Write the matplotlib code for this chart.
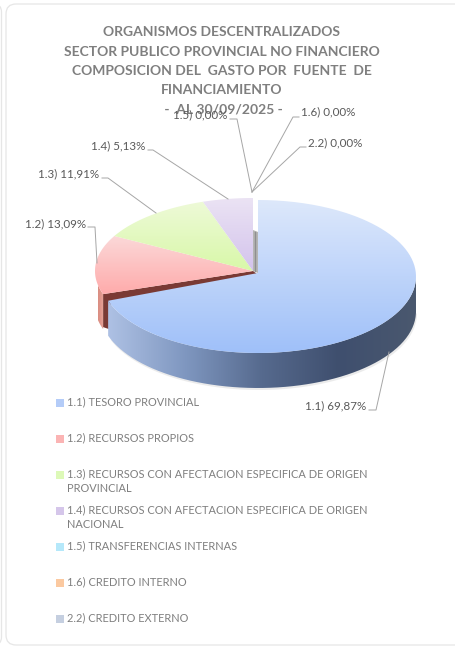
import numpy as np
import matplotlib
matplotlib.use("Agg")
import matplotlib.pyplot as plt
from matplotlib.colors import LinearSegmentedColormap
from matplotlib.patches import FancyBboxPatch, PathPatch, Polygon
from matplotlib.path import Path

plt.rcParams['font.family'] = ['Lato', 'DejaVu Sans']

# --- data ---
values = [69.87, 13.09, 11.91, 5.13, 0.00, 0.00, 0.00]
value_labels = ['1.1) 69,87%', '1.2) 13,09%', '1.3) 11,91%', '1.4) 5,13%',
                '1.5) 0,00%', '1.6) 0,00%', '2.2) 0,00%']
legend_names = ['1.1) TESORO PROVINCIAL', '1.2) RECURSOS PROPIOS',
                '1.3) RECURSOS CON AFECTACION ESPECIFICA DE ORIGEN\nPROVINCIAL',
                '1.4) RECURSOS CON AFECTACION ESPECIFICA DE ORIGEN\nNACIONAL',
                '1.5) TRANSFERENCIAS INTERNAS', '1.6) CREDITO INTERNO',
                '2.2) CREDITO EXTERNO']
title_lines = ['ORGANISMOS DESCENTRALIZADOS',
               'SECTOR PUBLICO PROVINCIAL NO FINANCIERO',
               'COMPOSICION DEL  GASTO POR  FUENTE  DE',
               'FINANCIAMIENTO',
               ' -  AL 30/09/2025 -']

# colours: light top, saturated bottom of each face
face_top = ['#dde8fb', '#fbd9d9', '#eefad8', '#ebe3f4']
face_bot = ['#9fc0f9', '#ffabab', '#d8f8a8', '#d3c3ec']
swatches = ['#b4ccf8', '#fbb4b4', '#ddf9b8', '#d5c6ea', '#b5e8fa', '#fbc9a0', '#c5cfe0']

GREY = '#7f7f7f'
DARK = '#595959'
LINE = '#a6a6a6'

fig = plt.figure(figsize=(4.56, 6.47), dpi=100)
ax = fig.add_axes([0, 0, 1, 1])
ax.set_xlim(0, 456)
ax.set_ylim(647, 0)
ax.axis('off')

# card outlines
ax.add_patch(FancyBboxPatch((6, 4), 470, 641, boxstyle='round,pad=0,rounding_size=10',
                            fc='white', ec='#e6e6e6', lw=0.9))
ax.add_patch(FancyBboxPatch((-30, 4), 31.5, 641, boxstyle='round,pad=0,rounding_size=8',
                            fc='white', ec='#e6e6e6', lw=0.9))

RX, DEPTH = 158, 35
MAIN = (258, 276.5)    # blue slice is pulled out
MAIN_RY = 76.5
MAIN_APEX = (258, 273)
REST = (253, 271)
REST_RY = 73


def ell(c, ry, deg):
    a = np.radians(deg)
    return c[0] + RX * np.sin(a), c[1] - ry * np.cos(a)


def arc(c, ry, a0, a1, n=120):
    t = np.linspace(a0, a1, n)
    x, y = ell(c, ry, t)
    return np.column_stack([x, y])


def gradient_fill(verts, colors, horizontal=False, zorder=2):
    cm = LinearSegmentedColormap.from_list('g', colors)
    x0, y0 = verts.min(axis=0)
    x1, y1 = verts.max(axis=0)
    g = np.linspace(0, 1, 256)
    g = g.reshape(1, -1) if horizontal else g.reshape(-1, 1)
    im = ax.imshow(g, cmap=cm, extent=(x0, x1, y1, y0), aspect='auto', zorder=zorder,
                   interpolation='bilinear')
    patch = PathPatch(Path(np.vstack([verts, verts[:1]])), transform=ax.transData,
                      fc='none', ec='none')
    ax.add_patch(patch)
    im.set_clip_path(patch)


angles = 360 * np.cumsum([0] + values) / sum(values)

# faint shadow of the cake
sh = arc((MAIN[0], MAIN[1] + DEPTH + 1), MAIN_RY, 90, 250)
ax.add_patch(Polygon(sh + [1, 1], closed=True, fc='#d8d8d8', ec='none', alpha=0.5, zorder=1))

# grey cut wall behind the gap
ax.add_patch(Polygon([(REST[0], 230), (MAIN[0], 232), (MAIN[0], MAIN_APEX[1]), (REST[0], REST[1])],
                     closed=True, fc='#b5b5b5', ec='none', zorder=2))
ax.plot([REST[0] + 2.5] * 2, [232, 271], color='#8f8f8f', lw=1, zorder=2)

# pink slice: outer wall and brown cut face
end_blue = angles[1]
px, py = ell(REST, REST_RY, end_blue)
wall = arc(REST, REST_RY, end_blue, end_blue + 8, 20)
wall = np.vstack([wall, (wall + [0, DEPTH])[::-1]])
gradient_fill(wall, ['#d98c80', '#e8a49a'], horizontal=True, zorder=2)
ax.add_patch(Polygon([(px, py), (REST[0], REST[1]), (REST[0] + 8, REST[1] + 6),
                      (px + 8, py + 10), (px + 6, py + DEPTH), (px, py + DEPTH - 2)],
                     closed=True, fc='#7a3a34', ec='none', zorder=3))

# side wall of the blue slice
edge = arc(MAIN, MAIN_RY, 90, end_blue)
side = np.vstack([edge, (edge + [0, DEPTH])[::-1]])
gradient_fill(side, ['#aec1e4', '#7f97c0', '#566a8e', '#3f4f6e', '#4a586f'], horizontal=True, zorder=3)

# top faces
for i in range(1, 4):
    verts = np.vstack([[REST], arc(REST, REST_RY, angles[i], angles[i + 1])])
    gradient_fill(verts, [face_top[i], face_bot[i]], zorder=4)
verts = np.vstack([[MAIN_APEX], arc(MAIN, MAIN_RY, angles[0], angles[1], 300)])
gradient_fill(verts, [face_top[0], face_bot[0]], zorder=5)

ax.set_xlim(0, 456)
ax.set_ylim(647, 0)

# title
title_y = [32, 52, 71, 90, 110]
for line, y in zip(title_lines, title_y):
    ax.text(222, y, line, ha='center', va='center', fontsize=10, fontweight='bold',
            color=GREY, zorder=6)

# leader lines and data labels
label_pos = [(366, 406, 'right'), (86, 224, 'right'), (99, 174, 'right'), (145, 146, 'right'),
             (227, 115, 'right'), (301, 112, 'left'), (308, 143, 'left')]
leaders = [[(369, 410), (376, 410), (389, 352)],
           [(88, 227), (95, 227), (97, 263)],
           [(102, 178), (108, 178), (156, 213)],
           [(148, 150), (153, 150), (228, 199)],
           [(230, 119), (237, 119), (252, 192)],
           [(299, 117), (293, 117), (252, 192)],
           [(306, 147), (300, 147), (252, 192)]]
for lab, (x, y, ha), pts in zip(value_labels, label_pos, leaders):
    xs, ys = zip(*pts)
    ax.plot(xs, ys, color=LINE, lw=0.7, zorder=7)
    ax.text(x, y, lab, ha=ha, va='center', fontsize=8.4, color=DARK, zorder=7)

# legend
legend_y = [403, 439, 475, 511, 547, 583, 619]
for name, col, y in zip(legend_names, swatches, legend_y):
    ax.add_patch(Polygon([(56, y - 4), (64, y - 4), (64, y + 4), (56, y + 4)], closed=True,
                         fc=col, ec='none', zorder=7))
    ax.text(67, y - 6.5, name, ha='left', va='top', fontsize=7.9, color=GREY,
            linespacing=1.4, zorder=7)

fig.savefig('out.png', dpi=100)
